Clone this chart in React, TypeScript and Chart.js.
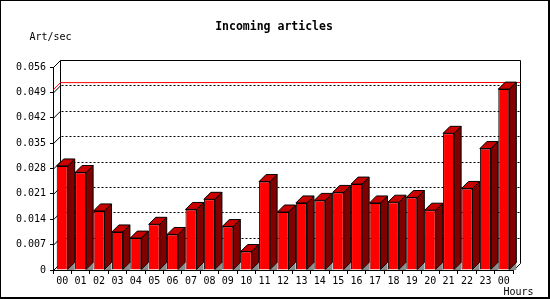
import React, { useEffect, useRef } from 'react';
import { Chart, registerables } from 'chart.js';

Chart.register(...registerables);

const hours = ['00', '01', '02', '03', '04', '05', '06', '07', '08', '09', '10', '11', '12', '13', '14', '15', '16', '17', '18', '19', '20', '21', '22', '23', '00'];
const artPerSec = [0.0287, 0.0269, 0.0163, 0.0105, 0.0088, 0.0126, 0.0098, 0.0167, 0.0195, 0.0120, 0.0051, 0.0244, 0.0160, 0.0185, 0.0192, 0.0214, 0.0237, 0.0185, 0.0187, 0.0200, 0.0165, 0.0377, 0.0225, 0.0335, 0.0499];
const yTickValues = [0, 0.007, 0.014, 0.021, 0.028, 0.035, 0.042, 0.049, 0.056];
const yTickLabels = ['0', '0.007', '0.014', '0.021', '0.028', '0.035', '0.042', '0.049', '0.056'];
const titleText = 'Incoming articles';
const yAxisTitle = 'Art/sec';
const xAxisTitle = 'Hours';

const DEPTH = 7;
const FONT = '"DejaVu Sans Mono", monospace';

const threeD = {
  id: 'threeD',
  beforeDraw(chart: any) {
    const ctx = chart.ctx;
    ctx.save();
    ctx.fillStyle = '#ffffff';
    ctx.fillRect(0, 0, chart.width, chart.height);
    ctx.restore();
  },
  beforeDatasetsDraw(chart: any) {
    const ctx = chart.ctx;
    const { left, right, top, bottom } = chart.chartArea;
    const ys = chart.scales.y;
    const D = DEPTH;
    ctx.save();
    ctx.lineWidth = 1;
    ctx.strokeStyle = '#000';
    // back wall
    const bl = Math.round(left + D) + 0.5;
    const br = Math.round(right + D) + 0.5;
    const bt = Math.round(top - D) + 0.5;
    const bb = Math.round(bottom - D) + 0.5;
    ctx.beginPath();
    ctx.moveTo(bl, bb);
    ctx.lineTo(bl, bt);
    ctx.lineTo(br, bt);
    ctx.lineTo(br, bb);
    ctx.stroke();
    // dotted grid on back wall
    ctx.setLineDash([2, 2]);
    yTickValues.forEach((v, i) => {
      if (i === 0 || i === yTickValues.length - 1) return;
      const yp = Math.round(ys.getPixelForValue(v) - D) + 0.5;
      ctx.beginPath();
      ctx.moveTo(bl + 1, yp);
      ctx.lineTo(br, yp);
      ctx.stroke();
    });
    ctx.setLineDash([]);
    // diagonals from front axis to back wall
    yTickValues.forEach((v) => {
      const yp = ys.getPixelForValue(v);
      ctx.beginPath();
      ctx.moveTo(left + 0.5, yp + 0.5);
      ctx.lineTo(left + D + 0.5, yp - D + 0.5);
      ctx.stroke();
    });
    // floor right edge
    ctx.beginPath();
    ctx.moveTo(right + 0.5, bottom + 0.5);
    ctx.lineTo(right + D + 0.5, bottom - D + 0.5);
    ctx.stroke();
    // max line in red
    const maxV = Math.max(...artPerSec);
    const ym = ys.getPixelForValue(maxV);
    ctx.strokeStyle = '#ff0000';
    ctx.beginPath();
    ctx.moveTo(left + 0.5, ym + 0.5);
    ctx.lineTo(left + D + 0.5, ym - D + 0.5);
    ctx.lineTo(br, Math.round(ym - D) + 0.5);
    ctx.stroke();
    // floor shadows
    const meta = chart.getDatasetMeta(0);
    ctx.fillStyle = '#8c8c8c';
    meta.data.forEach((bar: any) => {
      const xr = bar.x + bar.width / 2;
      ctx.beginPath();
      ctx.moveTo(xr, bottom);
      ctx.lineTo(xr + D, bottom - D);
      ctx.lineTo(xr + D, bottom);
      ctx.closePath();
      ctx.fill();
    });
    ctx.restore();
  },
  afterDatasetsDraw(chart: any) {
    const ctx = chart.ctx;
    const D = DEPTH;
    const meta = chart.getDatasetMeta(0);
    ctx.save();
    ctx.lineWidth = 1;
    ctx.strokeStyle = '#000';
    ctx.lineJoin = 'miter';
    meta.data.forEach((bar: any) => {
      const xl = bar.x - bar.width / 2;
      const xr = bar.x + bar.width / 2;
      const yt = bar.y;
      const yb = bar.base;
      // side face
      ctx.fillStyle = '#800000';
      ctx.beginPath();
      ctx.moveTo(xr, yt);
      ctx.lineTo(xr + D, yt - D);
      ctx.lineTo(xr + D, yb - D);
      ctx.lineTo(xr, yb);
      ctx.closePath();
      ctx.fill();
      ctx.stroke();
      // top face
      ctx.fillStyle = '#c80000';
      ctx.beginPath();
      ctx.moveTo(xl, yt);
      ctx.lineTo(xl + D, yt - D);
      ctx.lineTo(xr + D, yt - D);
      ctx.lineTo(xr, yt);
      ctx.closePath();
      ctx.fill();
      ctx.stroke();
    });
    ctx.restore();
  },
  afterDraw(chart: any) {
    const ctx = chart.ctx;
    ctx.save();
    ctx.fillStyle = '#000';
    ctx.textBaseline = 'middle';
    ctx.textAlign = 'center';
    ctx.font = 'bold 11.5px ' + FONT;
    ctx.fillText(titleText, 274, 27);
    ctx.textAlign = 'left';
    ctx.font = '10px ' + FONT;
    ctx.fillText(yAxisTitle, 29.5, 37);
    ctx.fillText(xAxisTitle, 503.5, 292.5);
    // frame
    ctx.fillRect(0, 0, 550, 1);
    ctx.fillRect(0, 0, 1, 299);
    ctx.fillRect(548, 0, 2, 299);
    ctx.fillRect(0, 297, 550, 2);
    ctx.restore();
  },
};

export default function App() {
  const ref = useRef<HTMLCanvasElement | null>(null);
  useEffect(() => {
    document.body.style.margin = '0';
    const canvas = ref.current;
    if (!canvas) return;
    const chart = new Chart(canvas, {
      type: 'bar',
      data: {
        labels: hours,
        datasets: [
          {
            data: artPerSec,
            backgroundColor: '#ff0000',
            borderColor: '#000000',
            borderWidth: 1,
            barPercentage: 0.6,
            categoryPercentage: 1,
          },
        ],
      },
      options: {
        responsive: false,
        animation: false,
        devicePixelRatio: 1,
        layout: { padding: { left: 0, top: 67, right: 37, bottom: 0 } },
        plugins: {
          legend: { display: false },
          tooltip: { enabled: false },
          title: { display: false },
        },
        scales: {
          x: {
            type: 'category',
            offset: true,
            grid: { drawOnChartArea: false, drawTicks: true, tickLength: 4, color: '#000', offset: true },
            border: { display: true, color: '#000' },
            ticks: { color: '#000', font: { family: FONT, size: 10 }, padding: 1, maxRotation: 0, autoSkip: false },
            afterFit: (s: any) => { s.height = 30; },
          },
          y: {
            min: 0,
            max: 0.056,
            afterBuildTicks: (s: any) => { s.ticks = yTickValues.map((v) => ({ value: v })); },
            grid: { drawOnChartArea: false, drawTicks: true, tickLength: 3, color: '#000' },
            border: { display: true, color: '#000' },
            ticks: {
              color: '#000',
              font: { family: FONT, size: 10 },
              padding: 4,
              callback: (_v: any, i: number) => yTickLabels[i],
            },
            afterFit: (s: any) => { s.width = 53; },
          },
        },
      },
      plugins: [threeD],
    } as any);
    return () => chart.destroy();
  }, []);
  return (
    <div style={{ position: 'absolute', left: 0, top: 0 }}>
      <canvas ref={ref} width={550} height={300} style={{ display: 'block' }} />
    </div>
  );
}
